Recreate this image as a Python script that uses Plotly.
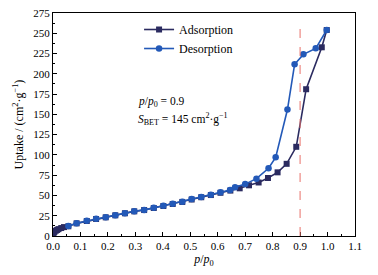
import plotly.graph_objects as go

# Adsorption branch
ads_x = [0.002, 0.005, 0.01, 0.015, 0.02, 0.03, 0.04, 0.056, 0.086, 0.123, 0.157, 0.192, 0.227,
         0.262, 0.296, 0.332, 0.367, 0.402, 0.436, 0.471, 0.505, 0.54, 0.575, 0.61, 0.646,
         0.68, 0.714, 0.749, 0.783, 0.818, 0.851, 0.886, 0.922, 0.979, 0.997]
ads_y = [3, 5, 6.5, 7.5, 8.5, 9.8, 11, 12, 15.6, 18.5, 21, 23, 25.5,
         28, 30.4, 32, 34.5, 37, 39.5, 42, 45, 47.8, 50.5, 53.3, 56,
         58.8, 62.5, 66, 71.5, 78.5, 89, 110, 181, 232.7, 254]

# Desorption branch
des_x = [0.997, 0.957, 0.912, 0.880, 0.854, 0.811, 0.785, 0.741, 0.70, 0.663, 0.645, 0.61,
         0.575, 0.54, 0.505, 0.471, 0.436, 0.402, 0.367, 0.332, 0.296, 0.262, 0.227, 0.192,
         0.157, 0.123, 0.086, 0.056]
des_y = [254, 231.4, 224, 211.7, 156, 97, 83.5, 70.7, 64, 60, 56.7, 53.8,
         51, 48, 45.6, 42.3, 39.7, 37.2, 34.7, 32.2, 30.6, 28.2, 25.7, 23.2,
         21.2, 18.7, 15.8, 12.2]

x_ticks = [0.0, 0.1, 0.2, 0.3, 0.4, 0.5, 0.6, 0.7, 0.8, 0.9, 1.0, 1.1]
y_ticks = [0, 25, 50, 75, 100, 125, 150, 175, 200, 225, 250, 275]

font = "Liberation Serif, Times New Roman, serif"
ads_color = "#2b2b60"
des_color = "#2359b8"

fig = go.Figure()
fig.add_trace(go.Scatter(x=ads_x, y=ads_y, mode="lines+markers", name="Adsorption",
                         line=dict(color=ads_color, width=1.6),
                         marker=dict(symbol="square", size=6, color=ads_color)))
fig.add_trace(go.Scatter(x=des_x, y=des_y, mode="lines+markers", name="Desorption",
                         line=dict(color=des_color, width=1.6),
                         marker=dict(symbol="circle", size=6.5, color=des_color)))

fig.add_shape(type="line", x0=0.9, x1=0.9, y0=0, y1=262, xref="x", yref="y",
              line=dict(color="#e8706a", width=1, dash="dash"))

fig.add_annotation(x=0.302, y=165.5, xref="x", yref="y", xanchor="left", showarrow=False,
                   text="<i>p</i>/<i>p</i><sub>0</sub> = 0.9",
                   font=dict(family=font, size=11.5, color="black"))
fig.add_annotation(x=0.302, y=144, xref="x", yref="y", xanchor="left", showarrow=False,
                   text="<i>S</i><sub>BET</sub> = 145 cm<sup>2</sup>·g<sup>−1</sup>",
                   font=dict(family=font, size=11.5, color="black"))

fig.update_layout(
    width=378, height=275,
    margin=dict(l=45, r=31, t=5, b=47),
    paper_bgcolor="white", plot_bgcolor="white",
    font=dict(family=font, size=11, color="black"),
    showlegend=True,
    legend=dict(x=0.285, y=0.991, xanchor="left", yanchor="top",
                bgcolor="rgba(0,0,0,0)", font=dict(family=font, size=12),
                itemwidth=30, tracegroupgap=0),
    xaxis=dict(range=[0, 1.1], tickvals=x_ticks, ticktext=[f"{v:.1f}" for v in x_ticks],
               ticks="inside", ticklen=4, tickcolor="black", showgrid=False, zeroline=False,
               showline=True, linecolor="black", linewidth=1, mirror=True, automargin=False,
               ticklabeloverflow="allow",
               minor=dict(ticks="inside", ticklen=2, dtick=0.05, tickcolor="black", showgrid=False),
               title=dict(text="<i>p</i>/<i>p</i><sub>0</sub>", font=dict(family=font, size=12),
                          standoff=2),
               tickfont=dict(family=font, size=11)),
    yaxis=dict(range=[0, 275], tickvals=y_ticks,
               ticks="inside", ticklen=4, tickcolor="black", showgrid=False, zeroline=False,
               showline=True, linecolor="black", linewidth=1, mirror=True, automargin=False,
               ticklabeloverflow="allow",
               minor=dict(ticks="inside", ticklen=2, dtick=12.5, tickcolor="black", showgrid=False),
               title=dict(text="Uptake / (cm<sup>2</sup>·g<sup>−1</sup>)",
                          font=dict(family=font, size=12), standoff=7),
               tickfont=dict(family=font, size=11)),
)

fig.write_html("out.html")
